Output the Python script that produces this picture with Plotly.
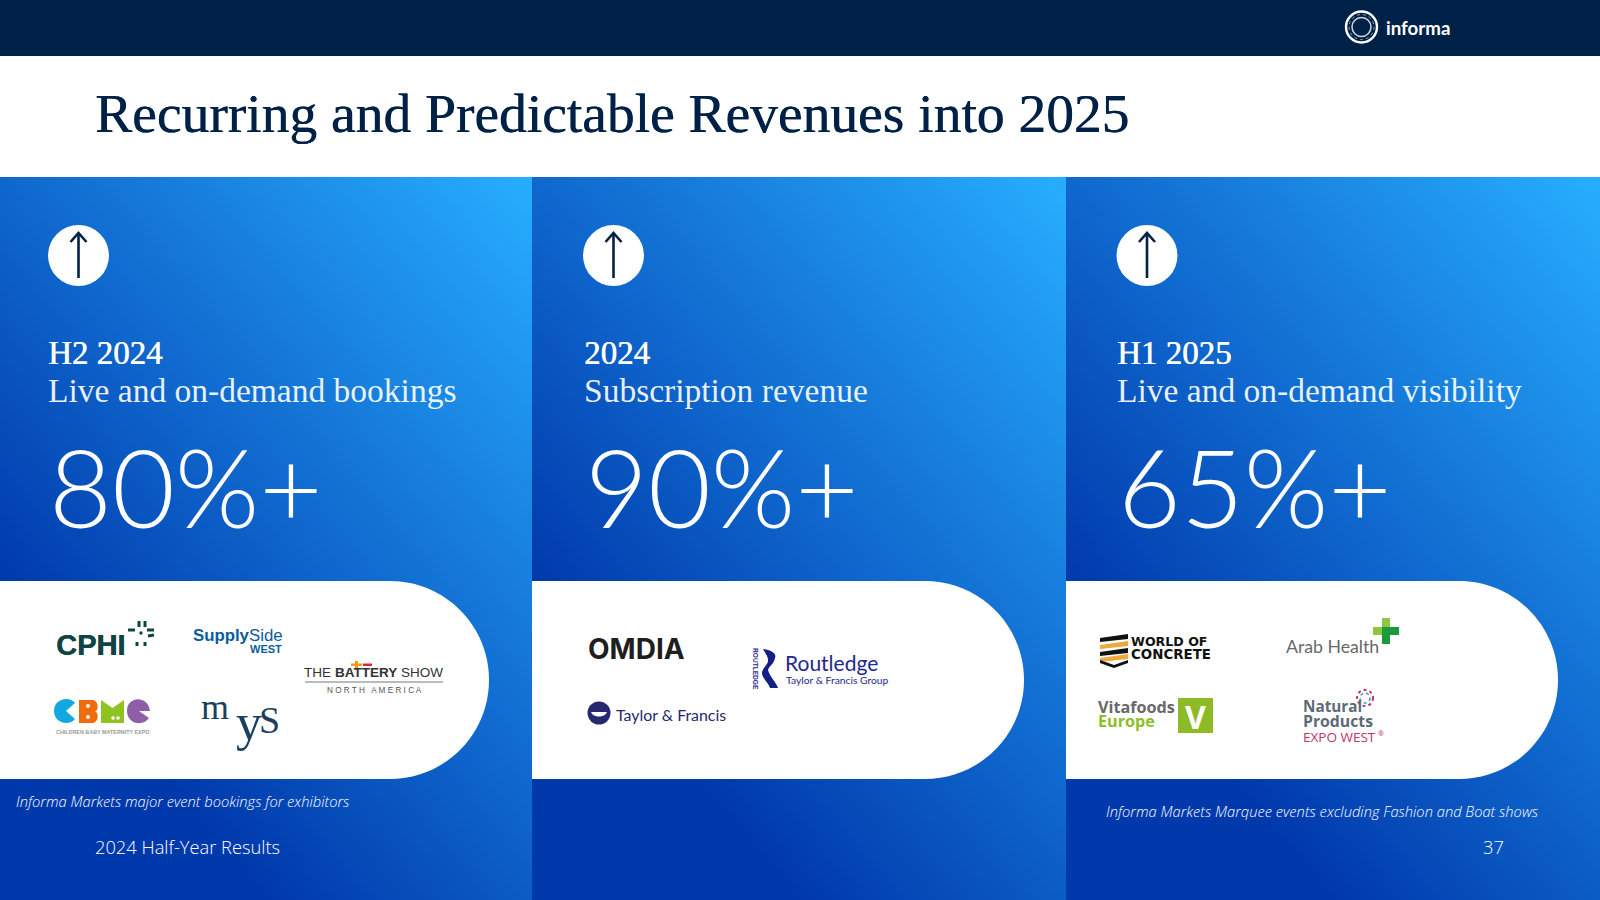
import base64
import plotly.graph_objects as go

TITLE = "Recurring and Predictable Revenues into 2025"
PANEL_X0 = [0, 532, 1066]
PANEL_X1 = [532, 1066, 1600]
PILL_RIGHT = [489, 1024, 1558]
ICON_X = [78.5, 613.5, 1147]
HEAD_X = [47, 583, 1116]
BIG_X = [48, 584, 1117]
PERIODS = ["H2 2024", "2024", "H1 2025"]
DESCRIPTIONS = ["Live and on-demand bookings", "Subscription revenue", "Live and on-demand visibility"]
BIG_VALUES = ["80%+", "90%+", "65%+"]
NAVY = "#002147"
SERIF = "Liberation Serif"
SANS = "Open Sans"

fig = go.Figure()
shapes, annos, images = [], [], []


def txt(x, y, s, size, color="white", font=SANS, weight=400, anchor="left", italic=False, angle=0, shadow=None):
    f = dict(family=font, size=size, color=color, weight=weight, style="italic" if italic else "normal")
    if shadow:
        f["shadow"] = shadow
    annos.append(dict(x=x, y=y, xref="x", yref="y", text=s, showarrow=False, xanchor=anchor, yanchor="middle",
                      align=anchor, borderpad=0, textangle=angle, font=f))


def rect(x0, y0, x1, y1, color):
    shapes.append(dict(type="rect", x0=x0, y0=y0, x1=x1, y1=y1, xref="x", yref="y", fillcolor=color, line_width=0))


def circ(cx, cy, r, color, line=None, lw=0, dash=None):
    shapes.append(dict(type="circle", x0=cx - r, y0=cy - r, x1=cx + r, y1=cy + r, xref="x", yref="y",
                       fillcolor=color, line=dict(color=line or "rgba(0,0,0,0)", width=lw, dash=dash or "solid")))


def path(d, fill=None, line=None, lw=0):
    shapes.append(dict(type="path", path=d, xref="x", yref="y", fillcolor=fill or "rgba(0,0,0,0)",
                       line=dict(color=line or "rgba(0,0,0,0)", width=lw)))


def seg(x0, y0, x1, y1, color, lw):
    shapes.append(dict(type="line", x0=x0, y0=y0, x1=x1, y1=y1, xref="x", yref="y", line=dict(color=color, width=lw)))


def grad(w):
    svg = (f'<svg xmlns="http://www.w3.org/2000/svg" width="{w}" height="723">'
           '<defs><linearGradient id="g" gradientUnits="userSpaceOnUse" x1="0" y1="408" x2="509" y2="-27">'
           '<stop offset="0" stop-color="#0039AC"/><stop offset="1" stop-color="#27AEFF"/></linearGradient></defs>'
           f'<rect width="{w}" height="723" fill="url(#g)"/></svg>')
    return "data:image/svg+xml;base64," + base64.b64encode(svg.encode()).decode()


rect(0, 0, 1600, 56, NAVY)
for x0, x1 in zip(PANEL_X0, PANEL_X1):
    images.append(dict(source=grad(x1 - x0), xref="x", yref="y", x=x0, y=177, sizex=x1 - x0, sizey=723,
                       xanchor="left", yanchor="top", sizing="stretch", layer="below"))

txt(94, 113, TITLE, 55.5, NAVY, SERIF, shadow=f"0.6px 0 0 {NAVY}")

k = 99 * 0.5523
for i in range(3):
    x0, xr = PANEL_X0[i], PILL_RIGHT[i]
    xc = xr - 99
    path(f"M{x0},581 L{xc},581 C{xc + k},581 {xr},{680 - k} {xr},680 C{xr},{680 + k} {xc + k},779 {xc},779 L{x0},779 Z", "white")
    ix = ICON_X[i]
    circ(ix, 255.5, 30.5, "white")
    seg(ix, 233, ix, 278, NAVY, 2.6)
    path(f"M{ix - 8},242 L{ix},233 L{ix + 8},242", None, NAVY, 2.6)
    txt(HEAD_X[i], 353, PERIODS[i], 33, "white", SERIF, shadow="0.5px 0 0 white")
    txt(HEAD_X[i], 390, DESCRIPTIONS[i], 33.5, "rgba(255,255,255,0.92)", SERIF)
    txt(BIG_X[i], 486, BIG_VALUES[i], 108.5, "white", "Lato", 300)

txt(15, 801, "Informa Markets major event bookings for exhibitors", 14.7, "white", SANS, 300, italic=True)
txt(1105, 811, "Informa Markets Marquee events excluding Fashion and Boat shows", 14.7, "white", SANS, 300, italic=True)
txt(94, 846, "2024 Half-Year Results", 18.3, "white", SANS, 300)
txt(1482, 846, "37", 18.3, "white", SANS, 300)

# informa logo
circ(1361.5, 27, 15.5, "rgba(0,0,0,0)", "white", 2.4)
circ(1361.5, 27, 9.5, "rgba(0,0,0,0)", "#c8d2dc", 1.6)
circ(1361.5, 27, 12.5, "rgba(0,0,0,0)", "#8fa3b8", 1, "dot")
txt(1385, 27.5, "informa", 18.7, "white", "Lato", 700)

# CPHI
TEAL = "#0E4442"
txt(55, 645, "CPHI", 29, TEAL, "Liberation Sans", 700, shadow=f"0.6px 0 0 {TEAL}")
for a, b, c, d in [(128, 630, 135, 630), (147, 630, 154, 630), (148, 636, 154, 635), (139, 621, 139, 627),
                   (145, 621, 145, 627), (137, 642, 137, 646), (145, 642, 145, 646)]:
    seg(a, b, c, d, TEAL, 3)
circ(141, 633, 1.7, TEAL)

# SupplySide West
BLUE = "#0B5C9E"
txt(192, 635, "Supply", 16.8, BLUE, "Liberation Sans", 700)
txt(248, 635, "Side", 16.8, BLUE, "Liberation Sans")
txt(249, 649, "WEST", 11, BLUE, "Liberation Sans", 700)

# The Battery Show
txt(303, 672, "THE", 13.5, "#333333", "Liberation Sans")
txt(334, 672, "BATTERY", 13.5, "#333333", "Liberation Sans", 700)
txt(400, 672, "SHOW", 13.5, "#333333", "Liberation Sans")
seg(305, 682, 443, 682, "#777777", 1)
txt(374, 690, "N O R T H   A M E R I C A", 8.2, "#555555", "Liberation Sans", 400, "center")
rect(355, 661, 358, 670, "#F39A1F")
rect(351, 663.5, 362, 666, "#F39A1F")
rect(363, 663.5, 372, 666, "#D9263C")

# CBME
path("M75,703 L66,711 L75,719 C70,726 54,724 54,711 C54,698 70,696 75,703 Z", "#12A9E2")
path("M79,700 L92,700 C99,700 99,711 95,711.5 C99,712 99,723 92,723 L79,723 Z", "#EE6C0C")
path("M101,700 L112.5,708 L124,700 L124,723 L101,723 Z", "#8FC31F")
path("M150,711 L139,711 L149,718 C143,727 127,724 127,711 C127,696 148,695 150,711 Z", "#8F5EA8")
circ(88, 706, 2, "white")
circ(88, 717, 2, "white")
circ(113, 718, 1.8, "white")
circ(118, 718, 1.8, "white")
txt(102, 732, "CHILDREN BABY MATERNITY EXPO", 5.4, "#999999", "Liberation Sans", 700, "center")

# mys
MYS = "#1C3F5E"
txt(200, 707, "m", 36, MYS, SERIF)
txt(235, 722, "y", 52, MYS, SERIF)
txt(258, 720, "S", 38, MYS, SERIF)

# Omdia
txt(587, 649, "OMDIA", 28, "#1E1E1E", "Inter", 700)

# Routledge
RB = "#24288C"
txt(756, 669, "ROUTLEDGE", 6.6, RB, "Liberation Sans", 700, "center", angle=90)
path("M763,649 C772,650 777,654 775,658 C774,664 769,666 768,670 C770,677 776,682 778,688 L770,688 C768,682 762,678 762,673 "
     "C762,668 769,664 768,660 C768,656 765,653 763,649 Z", "#131F85")
txt(784, 662, "Routledge", 21, RB, "Lato")
txt(785, 680, "Taylor &amp; Francis Group", 10.3, RB, "Lato")

# Taylor & Francis
TF = "#27286F"
circ(599, 713, 11.5, TF)
path("M591,712 L607,712 C605,718 593,718 591,712 Z", "white")
txt(615, 714, "Taylor &amp; Francis", 15.9, TF, "Lato")

# World of Concrete
for y, c in [(638, "#111111"), (645, "#EFA93A"), (652, "#111111"), (658, "#EFA93A")]:
    path(f"M1100,{y} L1128,{y - 4} L1128,{y + 1} L1100,{y + 4} Z", c)
path("M1100,660 L1114,665 L1128,660 L1128,663 L1114,668 L1100,663 Z", "#111111")
txt(1130, 641, "WORLD OF", 12.6, "#111111", "DejaVu Sans", 700)
txt(1130, 654, "CONCRETE", 13.4, "#111111", "DejaVu Sans", 700)

# Arab Health
txt(1285, 646, "Arab Health", 17.7, "#66686A", "Lato")
rect(1382, 618, 1390, 644, "#1A9A3C")
rect(1373, 627, 1399, 635, "#1A9A3C")
rect(1382, 618, 1390, 627, "#8DC63F")
rect(1373, 627, 1382, 635, "#8DC63F")

# Vitafoods Europe
txt(1097, 707, "Vitafoods", 16.2, "#67696B", "Open Sans", 700)
txt(1097, 721, "Europe", 16.2, "#8EBD28", "Open Sans", 700)
rect(1178, 698, 1213, 733, "#8DBB25")
txt(1195.5, 716, "V", 32, "white", "Open Sans", 700, "center")

# Natural Products Expo West
GREY = "#5C6B78"
txt(1302, 706, "Natural", 15.3, GREY, "Open Sans", 700)
txt(1302, 721, "Products", 15.8, GREY, "Open Sans", 700)
txt(1302, 737, "EXPO WEST", 13.5, "#C0336D", "Open Sans")
txt(1377, 733, "®", 7, "#C0336D", "Open Sans")
circ(1365, 698, 8, "rgba(0,0,0,0)", "#C0336D", 2, "dot")
circ(1365, 698, 5, "rgba(0,0,0,0)", "#4F92C9", 1.5, "dot")

fig.update_layout(
    width=1600, height=900, margin=dict(l=0, r=0, t=0, b=0), paper_bgcolor="white", plot_bgcolor="white",
    showlegend=False, shapes=shapes, annotations=annos, images=images,
    xaxis=dict(range=[0, 1600], visible=False, fixedrange=True),
    yaxis=dict(range=[900, 0], visible=False, fixedrange=True),
)
fig.write_html("out.html", config={"displayModeBar": False},
               post_script="document.body.style.margin='0';document.documentElement.style.overflow='hidden';")
